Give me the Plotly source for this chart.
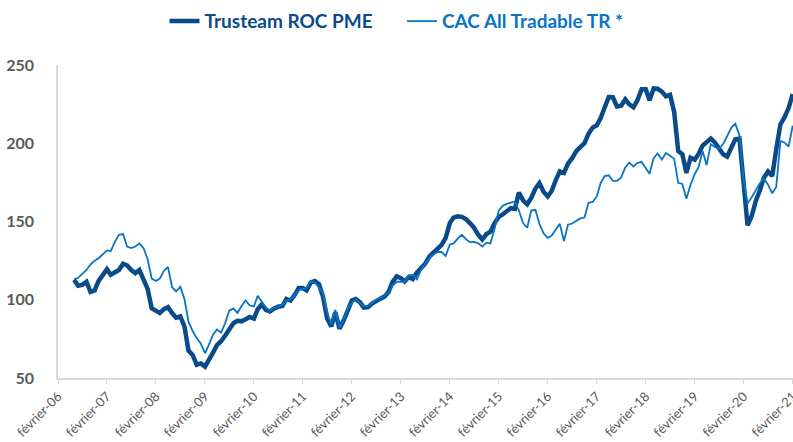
import pandas as pd
import plotly.graph_objects as go

start_month = "2006-06-01"

trusteam = [
    112.8, 109, 109.5, 111.5, 105, 106, 112, 116, 119.5, 116, 117.5, 119, 123, 122, 119, 117, 119, 112, 107,
    94.5, 92.5, 91.5, 94, 95.3, 91.5, 88.5, 89.3, 83, 67.5, 64.7, 58.5, 59.3, 57.3, 61, 66, 71, 73.5, 77, 81,
    85, 86.5, 86.2, 87.5, 89, 88, 94, 97, 93.5, 92.5, 94.5, 95.5, 96, 100.5, 99.5, 103, 107.5, 107.5, 106,
    111, 112, 110, 102, 88, 82.9, 92, 81.5, 86.5, 94, 99.5, 100.5, 98.5, 95, 95.3, 97.5, 99.5, 100.7, 102,
    105, 111.5, 115, 113.8, 111.7, 114.5, 113.2, 117.5, 120, 123, 127.5, 130, 133, 135, 139.5, 149, 152.5,
    153.3, 153, 151.5, 149, 146, 141.5, 138.5, 142, 143.5, 149, 153, 154.5, 157, 158.5, 158, 168.5, 163.5,
    161, 165, 171, 174.5, 169, 166, 169.5, 176.5, 182, 181, 187, 190.5, 195, 197.5, 200, 206, 210, 211.5,
    216, 223, 229.5, 229.4, 223.5, 224, 228, 224.8, 223, 227.5, 234.5, 234.5, 227.5, 235, 234.8, 233, 230,
    231, 220, 195, 193, 181, 190.8, 189.5, 193, 198.5, 201, 203, 200.5, 196.2, 193, 191.5, 197, 202.5, 203,
    176, 147.5, 153.5, 163, 170, 178, 182, 179, 196, 212, 216.5, 222.5, 231.4,
]

cac = [
    113, 114, 116.5, 119, 122.5, 125, 126.5, 129, 131.5, 131, 137, 141.5, 142, 134, 133, 134, 136, 133, 126,
    113.5, 112, 113.5, 118.5, 121, 108, 105.3, 108.3, 100.5, 86, 80, 75.5, 72, 65.8, 71, 77.5, 81, 79, 85, 93,
    94.5, 91.5, 96, 99.5, 96.3, 95.7, 102.5, 99, 95, 93, 95, 95.5, 97, 99.5, 100, 103, 106, 107, 107.5,
    112, 111, 108, 104, 92, 84, 93.6, 82, 87, 94.5, 98, 100, 98, 96, 96, 98, 100, 101, 102.5,
    104.5, 109, 111.5, 111.5, 111.5, 115.5, 116, 113, 119, 123, 126.5, 129, 130.5, 130.5, 128, 135.3, 136,
    139, 141.5, 138.7, 136.8, 137, 136, 134, 136.5, 136, 145.5, 157, 160, 161.3, 162.2, 162.8, 157, 149,
    146, 157, 157.5, 148.5, 142.5, 139.5, 141, 144.5, 148.5, 137.5, 148, 148.7, 150.5, 152, 152.5, 161.9, 162.5,
    166, 174.5, 179, 179.5, 176, 176, 178, 184.5, 187.7, 185.2, 187.5, 188, 184, 180.5, 190.5, 193.5, 189.5,
    193.7, 192, 190, 174.7, 174, 164.5, 173.5, 180.3, 184.5, 195, 186, 199.4, 197.6, 196.5, 199.5, 204.5, 210,
    212.5, 205, 176, 161.5, 165.5, 170, 174.5, 177.5, 173.5, 168, 172, 201.5, 200.5, 197.8, 211.2,
]

tick_years = list(range(2006, 2022))
tick_labels = ["février-%02d" % (y % 100) for y in tick_years]
tick_dates = ["%d-02-01" % y for y in tick_years]

dates = pd.date_range(start_month, periods=len(trusteam), freq="MS")

DARK = "#0A4A89"
LIGHT = "#0A74C4"
GRAY = "#595959"
FONT = "Lato"

fig = go.Figure()
fig.add_trace(go.Scatter(
    x=dates, y=trusteam, mode="lines",
    name="<span style='color:%s'><b>Trusteam ROC PME</b></span>" % DARK + "&nbsp;" * 5,
    line=dict(color=DARK, width=4.5),
))
fig.add_trace(go.Scatter(
    x=dates, y=cac, mode="lines",
    name="<span style='color:%s'><b>CAC All Tradable TR *</b></span>" % LIGHT,
    line=dict(color=LIGHT, width=1.8),
))

fig.update_layout(
    width=793, height=442,
    margin=dict(l=58, r=0, t=65, b=64, autoexpand=False),
    paper_bgcolor="white", plot_bgcolor="white",
    font=dict(family=FONT, color=GRAY),
    showlegend=True,
    legend=dict(orientation="h", x=0.5, xref="container", xanchor="center",
                y=0.995, yref="container", yanchor="top",
                font=dict(size=19, family=FONT),
                itemwidth=30, tracegroupgap=0),
    xaxis=dict(
        type="date",
        range=["2006-02-01", "2021-02-03"],
        tickvals=tick_dates, ticktext=tick_labels,
        tickangle=-45,
        tickfont=dict(size=13, color=GRAY, family=FONT),
        ticklabeloverflow="allow",
        showgrid=False, zeroline=False, automargin=False,
        showline=True, linecolor="#D9D9D9", linewidth=1.5,
        ticks="outside", ticklen=4, tickcolor="#D9D9D9", tickwidth=1,
    ),
    yaxis=dict(
        range=[50, 250],
        tickvals=[50, 100, 150, 200, 250],
        tickfont=dict(size=16, color=GRAY, family=FONT, weight="bold"),
        showgrid=False, zeroline=False, automargin=False,
        showline=True, linecolor="#D9D9D9", linewidth=1.5,
        ticks="", ticklabelstandoff=19,
    ),
)

fig.write_html("out.html", config={"displayModeBar": False},
               post_script="document.body.style.margin='0';")
